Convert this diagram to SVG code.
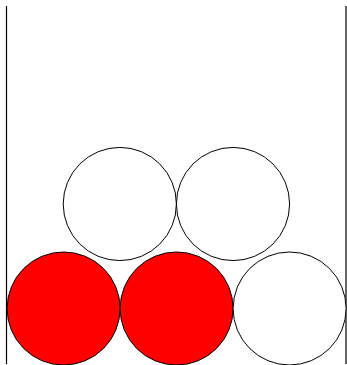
<svg xmlns="http://www.w3.org/2000/svg" width="347" height="365" viewBox="0 0 347 365">
<style>
.wall{stroke:#000;stroke-width:1.2;fill:none}
.ball{stroke:#000;stroke-width:1;fill:#fff}
.red{fill:#ff0000}
</style>
<rect width="347" height="365" fill="#fff"/>
<g id="walls">
<line class="wall" x1="6.5" y1="6" x2="6.5" y2="364"/>
<line class="wall" x1="346" y1="6" x2="346" y2="364"/>
</g>
<g id="ball-top-left"><circle class="ball" cx="119.8" cy="204" r="56.6"/></g>
<g id="ball-top-right"><circle class="ball" cx="233" cy="204" r="56.6"/></g>
<g id="ball-bottom-1"><circle class="ball red" cx="63.6" cy="308.5" r="56.5"/></g>
<g id="ball-bottom-2"><circle class="ball red" cx="176.6" cy="308.5" r="56.5"/></g>
<g id="ball-bottom-3"><circle class="ball" cx="289.6" cy="308.5" r="56.5"/></g>
</svg>
